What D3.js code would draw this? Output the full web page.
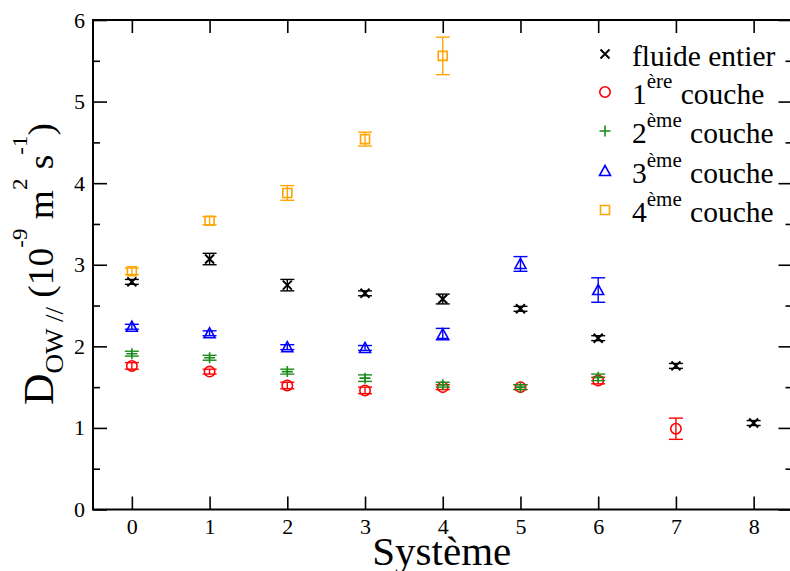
<!DOCTYPE html>
<html>
<head>
<meta charset="utf-8">
<script src="https://cdn.jsdelivr.net/npm/d3@7"></script>
<style>
  html, body { margin: 0; padding: 0; background: #fff; }
  svg { display: block; }
  svg text { font-family: "Liberation Serif", "Times New Roman", serif; }
</style>
</head>
<body>
<svg id="chart" width="790" height="571"></svg>
<script>
// ---- data ----
const systems = [0, 1, 2, 3, 4, 5, 6, 7, 8];
const fluide = [2.79, 3.07, 2.75, 2.65, 2.58, 2.46, 2.10, 1.76, 1.06];
const fluideErr = [0.03, 0.07, 0.07, 0.03, 0.06, 0.03, 0.03, 0.03, 0.03];
const couche1 = [1.76, 1.69, 1.52, 1.46, 1.50, 1.50, 1.58, 0.99];
const couche1Err = [0.04, 0.03, 0.04, 0.04, 0.03, 0.03, 0.04, 0.13];
const couche2 = [1.91, 1.86, 1.69, 1.61, 1.53, 1.50, 1.62];
const couche2Err = [0.03, 0.03, 0.03, 0.04, 0.03, 0.03, 0.04];
const couche3 = [2.24, 2.16, 1.99, 1.98, 2.15, 3.01, 2.69];
const couche3Err = [0.03, 0.03, 0.03, 0.03, 0.07, 0.09, 0.15];
const couche4 = [2.92, 3.54, 3.88, 4.54, 5.56];
const couche4Err = [0.04, 0.05, 0.09, 0.085, 0.23];
const xTicks = [0, 1, 2, 3, 4, 5, 6, 7, 8];
const yTicks = [0, 1, 2, 3, 4, 5, 6];
const yMinorTicks = [0.5, 1.5, 2.5, 3.5, 4.5, 5.5];

const seriesList = [
  { name: "fluide", values: fluide, errors: fluideErr, color: "#000000", marker: "x",
    label: [["fluide entier", false]] },
  { name: "c1", values: couche1, errors: couche1Err, color: "#ff0000", marker: "circle",
    label: [["1", false], ["ère", true], [" couche", false]] },
  { name: "c2", values: couche2, errors: couche2Err, color: "#1a8c1a", marker: "plus",
    label: [["2", false], ["ème", true], [" couche", false]] },
  { name: "c3", values: couche3, errors: couche3Err, color: "#0000ff", marker: "triangle",
    label: [["3", false], ["ème", true], [" couche", false]] },
  { name: "c4", values: couche4, errors: couche4Err, color: "#ffa500", marker: "square",
    label: [["4", false], ["ème", true], [" couche", false]] }
];

// ---- layout ----
const FONT = "'Liberation Serif', 'Times New Roman', serif";
const svg = d3.select("#chart");
const pLeft = 93, pRight = 792.5, pTop = 20, pBottom = 509.5;
const x = d3.scaleLinear().domain([-0.5, 8.5]).range([pLeft, pRight]);
const y = d3.scaleLinear().domain([0, 6]).range([pBottom, pTop]);

function markerPath(type) {
  switch (type) {
    case "x": return "M-4.5,-4.5L4.5,4.5M-4.5,4.5L4.5,-4.5";
    case "plus": return "M-5.5,0H5.5M0,-5.5V5.5";
    case "triangle": return "M0,-5.5L5.5,4.5H-5.5Z";
    case "square": return "M-4.5,-4.5H4.5V4.5H-4.5Z";
    default: return null;
  }
}
function drawMarker(g, type, color) {
  if (type === "circle") {
    g.append("circle").attr("r", 5.2).attr("fill", "none")
      .attr("stroke", color).attr("stroke-width", 1.6);
  } else {
    g.append("path").attr("d", markerPath(type)).attr("fill", "none")
      .attr("stroke", color).attr("stroke-width", type === "x" ? 2 : 1.6);
  }
}

// ---- axes ----
const fmt = d3.format("d");
const gx = svg.append("g").attr("transform", `translate(0,${pBottom})`)
  .call(d3.axisBottom(x).tickValues(xTicks).tickFormat(fmt).tickSizeInner(-13).tickSizeOuter(0).tickPadding(9));
const gy = svg.append("g").attr("transform", `translate(${pLeft},0)`)
  .call(d3.axisLeft(y).tickValues(yTicks).tickFormat(fmt).tickSizeInner(-14).tickSizeOuter(0).tickPadding(8));
const gyMinor = svg.append("g").attr("transform", `translate(${pLeft},0)`)
  .call(d3.axisLeft(y).tickValues(yMinorTicks).tickFormat("").tickSizeInner(-7).tickSizeOuter(0));
const gxTop = svg.append("g").attr("transform", `translate(0,${pTop})`)
  .call(d3.axisTop(x).tickValues(xTicks).tickFormat("").tickSizeInner(-13).tickSizeOuter(0));
const gyRight = svg.append("g").attr("transform", `translate(${pRight},0)`)
  .call(d3.axisRight(y).tickValues(yTicks).tickFormat("").tickSizeInner(-14).tickSizeOuter(0));
const gyRightMinor = svg.append("g").attr("transform", `translate(${pRight},0)`)
  .call(d3.axisRight(y).tickValues(yMinorTicks).tickFormat("").tickSizeInner(-7).tickSizeOuter(0));

[gx, gy, gyMinor, gxTop, gyRight, gyRightMinor].forEach(g => {
  g.attr("font-family", FONT);
  g.select(".domain").remove();
  g.selectAll(".tick line").attr("stroke", "#000").attr("stroke-width", 1.6);
  g.selectAll(".tick text").attr("fill", "#000")
    .style("font-family", FONT).style("font-size", "22px");
});

// frame
svg.append("rect").attr("x", pLeft).attr("y", pTop)
  .attr("width", pRight - pLeft).attr("height", pBottom - pTop)
  .attr("fill", "none").attr("stroke", "#000").attr("stroke-width", 2);

// ---- data ----
seriesList.forEach(s => {
  const g = svg.append("g").attr("class", "series-" + s.name);
  s.values.forEach((v, i) => {
    const cx = x(systems[i]);
    const e = s.errors[i];
    const y1 = y(v + e), y2 = y(v - e);
    const eb = g.append("g").attr("stroke", s.color).attr("stroke-width", 1.4);
    eb.append("line").attr("x1", cx).attr("x2", cx).attr("y1", y1).attr("y2", y2);
    eb.append("line").attr("x1", cx - 7).attr("x2", cx + 7).attr("y1", y1).attr("y2", y1);
    eb.append("line").attr("x1", cx - 7).attr("x2", cx + 7).attr("y1", y2).attr("y2", y2);
    const m = g.append("g").attr("transform", `translate(${cx},${y(v)})`);
    drawMarker(m, s.marker, s.color);
  });
});

// ---- legend ----
const legend = svg.append("g");
const legendBaselines = [66, 104, 143, 183, 222];
seriesList.forEach((s, i) => {
  const base = legendBaselines[i];
  const m = legend.append("g").attr("transform", `translate(605,${base - 12})`);
  drawMarker(m, s.marker, s.color);
  const t = legend.append("text").attr("x", 632).attr("y", base)
    .style("font-family", FONT).style("font-size", "29.5px").attr("fill", "#000");
  let raised = false;
  s.label.forEach(([txt, sup]) => {
    const ts = t.append("tspan").text(txt);
    if (sup && !raised) { ts.attr("dy", -16).style("font-size", "21px"); raised = true; }
    else if (!sup && raised) { ts.attr("dy", 16).attr("dx", 1); raised = false; }
  });
});

// ---- axis titles ----
svg.append("text").attr("x", (pLeft + pRight) / 2 - 1).attr("y", 565)
  .attr("text-anchor", "middle").style("font-family", FONT).style("font-size", "41px").attr("fill", "#000")
  .text("Système");

const yl = svg.append("text")
  .attr("text-anchor", "start").attr("fill", "#000")
  .style("font-family", FONT).style("font-size", "36px");
yl.append("tspan").text("D").style("font-size", "42px");
yl.append("tspan").text("OW //").attr("dy", 10).style("font-size", "26px");
yl.append("tspan").text(" (10").attr("dy", -10);
yl.append("tspan").text("-9").attr("dy", -26).style("font-size", "22px");
yl.append("tspan").text(" m").attr("dy", 26);
yl.append("tspan").text("2").attr("dy", -26).style("font-size", "22px");
yl.append("tspan").text(" s").attr("dy", 26);
yl.append("tspan").text("-1").attr("dy", -26).style("font-size", "22px");
yl.append("tspan").text(")").attr("dy", 26);
// fit the label between y=405 (start) and y=123 (end), as in the reference
const labelLen = yl.node().getComputedTextLength();
const k = Math.max(0.85, Math.min(1.15, 282 / labelLen));
yl.attr("transform", `translate(53,405) rotate(-90) scale(${k},1)`);
</script>
</body>
</html>
